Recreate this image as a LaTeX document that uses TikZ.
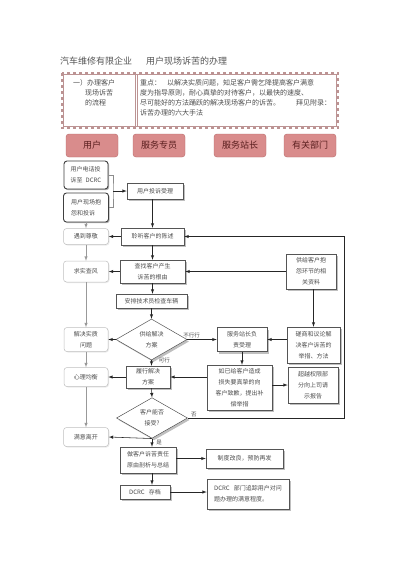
\documentclass[tikz,border=0pt]{standalone}
\usepackage{fontspec}
\setmainfont{Noto Sans CJK SC}
\usetikzlibrary{shapes,shadows}

\begin{document}
\begin{tikzpicture}[x=1pt,y=-1pt,>=latex,
		feld/.style={draw=boxgray,fill=white,line width=.5pt,inner sep=1pt,align=center,text=textgray,font=\fontsize{6}{11}\selectfont},
		kasten/.style={feld,drop shadow={shadow xshift=2pt,shadow yshift=-2pt,fill=black!50}},
		nutzer/.style={feld,rounded corners=3pt,draw=black!75,line width=.9pt,align=left,drop shadow={shadow xshift=1.2pt,shadow yshift=-1.2pt,fill=black!60}},
		seite/.style={feld,rounded corners=3pt,draw=black!25,drop shadow={shadow xshift=1pt,shadow yshift=-1pt,fill=black!15}},
		raute/.style={kasten,diamond,inner sep=0pt},
		kopf/.style={draw=headborder,fill=headfill,rounded corners=3pt,minimum width=52pt,minimum height=23pt,font=\fontsize{9}{10}\selectfont\color{headtext}},
		pfeil/.style={->,draw=black!85,line width=.55pt},
		grau/.style={->,draw=black!40,line width=.5pt},
		lbl/.style={font=\fontsize{5.5}{6}\selectfont,text=textgray,inner sep=1pt}]
		\definecolor{boxgray}{HTML}{555555}
		\definecolor{textgray}{HTML}{4D4D4D}
		\definecolor{titlegray}{HTML}{555555}
		\definecolor{headfill}{HTML}{D98C8C}
		\definecolor{headborder}{HTML}{B86A6A}
		\definecolor{headtext}{HTML}{5A1E1E}
		\definecolor{rahmen}{HTML}{BC9393}
		\path[use as bounding box,fill=white] (0,0) rectangle (400,566);
		% Titel
		\node[anchor=west,inner sep=0pt,text=titlegray,font=\fontsize{9}{10}\selectfont] (titel) at (60,61) {汽车维修有限企业\hspace{14pt}用户现场诉苦的办理};
		% Rahmen
		\draw[line width=.4pt,rahmen] (63.5,74.5) rectangle (336.5,126.5);
		\draw[line width=1.2pt,dashed,rahmen] (62,73) rectangle (338,128);
		\draw[line width=.4pt,rahmen] (135,74.5) -- (135,126.5);
		\draw[line width=.4pt,rahmen] (137,74.5) -- (137,126.5);
		\node[anchor=north west,inner sep=0pt,align=left,text=textgray,font=\fontsize{7}{10}\selectfont] (aufgabe) at (73,79) {一）办理客户\\\hspace*{12pt}现场诉苦\\\hspace*{12pt}的流程};
		\node[anchor=north west,inner sep=0pt,align=left,text=textgray,font=\fontsize{7}{10}\selectfont] (schwerpunkt) at (140,79) {重点：\hspace{6pt}以解决实质问题，知足客户需乞降提高客户满意\\度为指导原则，耐心真挚的对待客户，以最快的速度、\\尽可能好的方法踊跃的解决现场客户的诉苦。\hspace{16pt}拜见附录：\\诉苦办理的六大手法};
		% Spalten
		\node[kopf] (kunde) at (92,145.5) {用户};
		\node[kopf] (berater) at (159,145.5) {服务专员};
		\node[kopf] (leiter) at (240,145.5) {服务站长};
		\node[kopf] (abteilung) at (310,145.5) {有关部门};
		% Nutzer
		\node[nutzer,minimum width=44pt,minimum height=28pt] (telefon) at (86,175) {用户电话投\\诉至\hspace{3pt}DCRC};
		\node[nutzer,minimum width=45pt,minimum height=29pt] (vorort) at (86,207.5) {用户现场抱\\怨和投诉};
		\node[seite,minimum width=45pt,minimum height=16pt] (respekt) at (86,236.5) {遇到尊敬};
		\node[seite,minimum width=45pt,minimum height=21pt] (fakten) at (86,271.5) {求实查风};
		\node[seite,minimum width=44pt,minimum height=24pt] (loesung) at (86,339.5) {解决实质\\问题};
		\node[seite,minimum width=44pt,minimum height=19pt] (balance) at (86,377) {心理均衡};
		\node[seite,minimum width=45pt,minimum height=19pt] (zufrieden) at (86,437) {满意离开};
		% Ablauf
		\node[kasten,minimum width=56pt,minimum height=16pt] (annahme) at (155,191) {用户投诉受理};
		\node[kasten,minimum width=63pt,minimum height=17pt] (zuhoeren) at (152.5,236.5) {聆听客户的陈述};
		\node[kasten,minimum width=65pt,minimum height=23pt] (ursache) at (152.5,271.5) {查找客户产生\\诉苦的根由};
		\node[kasten,minimum width=71pt,minimum height=14pt] (pruefung) at (151.5,301) {安排技术员检查车辆};
		\node[raute,minimum width=71pt,minimum height=41pt] (angebot) at (151.5,339.5) {供给解决\\方案};
		\node[kasten,minimum width=44pt,minimum height=22pt] (umsetzung) at (148,377) {履行解决\\方案};
		\node[raute,minimum width=71pt,minimum height=38pt] (frage) at (152,418) {客户能否\\接受?};
		\node[kasten,minimum width=56pt,minimum height=26pt] (analyse) at (148,460) {做客户诉苦责任\\原由剖析与总结};
		\node[kasten,minimum width=50pt,minimum height=14pt] (archiv) at (145,492) {DCRC\hspace{4pt}存档};
		% Leitung
		\node[kasten,minimum width=50pt,minimum height=35pt] (material) at (311,271.5) {供给客户抱\\怨环节的相\\关资料};
		\node[kasten,minimum width=50pt,minimum height=24pt] (station) at (242,339.5) {服务站长负\\责受理};
		\node[kasten,minimum width=53pt,minimum height=36pt] (beratung) at (313.5,345) {磋商和议论解\\决客户诉苦的\\举措、方法};
		\node[kasten,minimum width=65pt,minimum height=45pt] (entschuldigung) at (239.5,387.5) {如已给客户造成\\损失要真挚的向\\客户致歉，提出补\\偿举措};
		\node[kasten,minimum width=50pt,minimum height=36pt] (meldung) at (313,385) {超越权限部\\分向上司请\\示报告};
		\node[kasten,minimum width=77pt,minimum height=19pt] (vorbeugung) at (244.5,458.5) {制度改良，预防再发};
		\node[kasten,minimum width=82pt,minimum height=30pt,align=left] (verfolgung) at (248,494) {DCRC\hspace{4pt}部门追踪用户对问\\题办理的满意程度。};
		% Verbindungen
		\coordinate (klammer) at (113,191);
		\coordinate (rechtsunten) at (344,418);
		\coordinate (rechtsoben) at (344,236.5);
		\draw[draw=black!45,line width=.5pt] (telefon.east) -| (klammer) |- (vorort.east);
		\draw[pfeil] (klammer) -- (annahme.west);
		\draw[pfeil] (annahme.south -| zuhoeren.north) -- (zuhoeren.north);
		\draw[pfeil] (zuhoeren.west) -- (respekt.east);
		\draw[pfeil] (zuhoeren.south) -- (ursache.north);
		\draw[pfeil] (ursache.west) -- (fakten.east);
		\draw[pfeil] (ursache.south) -- (ursache.south |- pruefung.north);
		\draw[pfeil] (pruefung.south) -- (angebot.north);
		\draw[pfeil] (angebot.west) -- (loesung.east);
		\draw[pfeil] (angebot.east) -- node[lbl,above,pos=.15] (nichtok) {不行行} (station.west);
		\draw[pfeil] (angebot.south) -- node[lbl,right,pos=0,xshift=6pt] (machbar) {可行} (angebot.south |- umsetzung.north);
		\draw[pfeil] (material.west) -- (ursache.east);
		\draw[pfeil] (beratung.north |- material.south) -- (beratung.north);
		\draw[pfeil] (beratung.west |- station.east) -- (station.east);
		\draw[pfeil] (station.south) -- (station.south |- entschuldigung.north);
		\draw[pfeil] (entschuldigung.east |- meldung.west) -- (meldung.west);
		\draw[pfeil] (entschuldigung.west |- umsetzung.east) -- (umsetzung.east);
		\draw[pfeil] (umsetzung.west) -- (balance.east);
		\draw[pfeil] (angebot.south |- umsetzung.south) -- (frage.north);
		\draw[pfeil] (frage.south) -- (zufrieden.east);
		\draw[pfeil] (frage.east) -- node[lbl,above right,pos=0,xshift=2pt] (nein) {否} (rechtsunten) -- (rechtsoben) -- (zuhoeren.east);
		\draw[pfeil] (frage.south) -- node[lbl,right,xshift=3pt] (ja) {是} (frage.south |- analyse.north);
		\draw[pfeil] (analyse.east |- vorbeugung.west) -- (vorbeugung.west);
		\draw[pfeil] (frage.south |- analyse.south) -- (frage.south |- archiv.north);
		\draw[pfeil] (archiv.east) -- (archiv.east -| verfolgung.west);
		% links
		\draw[grau] (vorort.south) -- (respekt.north);
		\draw[grau] (respekt.south) -- (fakten.north);
		\draw[grau] (fakten.south) -- (loesung.north);
		\draw[grau] (loesung.south) -- (balance.north);
		\draw[grau] (balance.south) -- (zufrieden.north);
\end{tikzpicture}
\end{document}
